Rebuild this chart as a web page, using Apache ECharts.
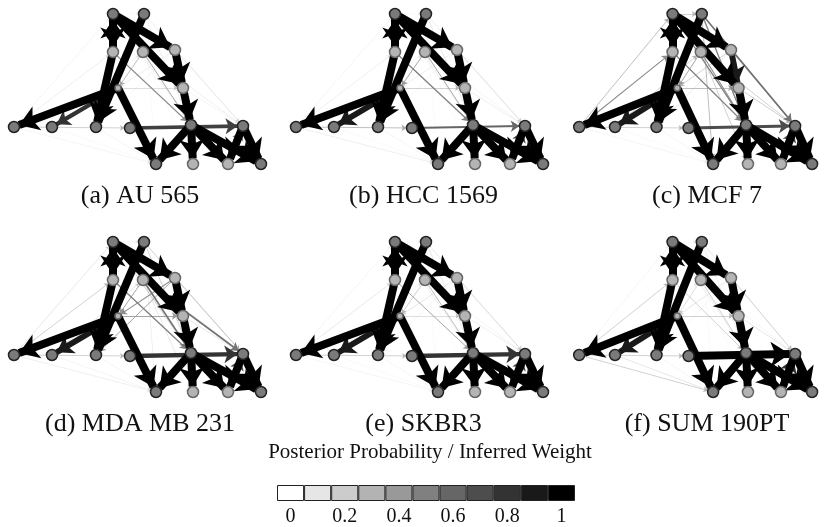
<!DOCTYPE html>
<html>
<head>
<meta charset="utf-8">
<script src="https://cdn.jsdelivr.net/npm/echarts@6/dist/echarts.min.js"></script>
<style>
  html, body { margin: 0; padding: 0; background: #fff; }
  #main { width: 830px; height: 527px; }
</style>
</head>
<body>
<div id="main"></div>
<script>
// network nodes (layout coordinates inside one panel)
const nodeNames = ['A', 'B', 'C', 'D', 'E', 'F', 'G', 'H', 'I', 'J', 'K', 'L', 'M', 'N', 'O', 'P', 'Q'];
const nodeX = [113, 144, 113, 143, 175, 183, 118, 191, 14, 52, 96, 130, 243, 156, 193, 228, 261];
const nodeY = [14, 14, 52, 52, 50, 88, 88, 125, 127, 127, 127, 128, 126, 164, 164, 164, 164];

// directed edges
const edgeFrom = ['A', 'C', 'A', 'A', 'E', 'F', 'B', 'C', 'G', 'G', 'G', 'H', 'H', 'H', 'H', 'M', 'M', 'L', 'I',
  'C', 'D', 'D', 'G', 'A', 'B', 'I', 'I', 'J', 'I', 'K', 'E', 'F', 'B', 'D', 'E', 'A', 'B', 'D', 'E', 'J', 'P'];
const edgeTo = ['C', 'A', 'E', 'F', 'F', 'H', 'K', 'K', 'I', 'J', 'N', 'N', 'O', 'P', 'Q', 'P', 'Q', 'M', 'L',
  'H', 'H', 'G', 'F', 'H', 'M', 'C', 'A', 'D', 'N', 'N', 'M', 'M', 'H', 'M', 'G', 'B', 'N', 'O', 'K', 'N', 'M'];

// posterior probability / inferred weight of each edge, one list per cell line
const wAU565 = [1, 1, 1, 1, 1, 1, 1, 1, 1, 0.8, 1, 1, 1, 1, 1, 1, 1, 0.75, 0.3,
  0.45, 0.4, 0.35, 0.25, 0.15, 0.15, 0.15, 0.1, 0.1, 0.1, 0.1, 0.15, 0.1, 0.15, 0.15, 0.15, 0.05, 0.05, 0.05, 0.1, 0.05, 0.6];
const wHCC1569 = [1, 1, 1, 1, 1, 1, 1, 1, 1, 0.9, 1, 1, 1, 1, 1, 1, 1, 0.6, 0.35,
  0.5, 0.4, 0.4, 0.3, 0.15, 0.15, 0.15, 0.1, 0.1, 0.15, 0.1, 0.2, 0.15, 0.2, 0.1, 0.15, 0.05, 0.05, 0.05, 0.1, 0.05, 0.7];
const wMCF7 = [1, 1, 1, 1, 0.9, 1, 1, 1, 1, 0.9, 1, 1, 1, 1, 1, 1, 1, 0.7, 0.3,
  0.5, 0.45, 0.4, 0.35, 0.5, 0.55, 0.45, 0.35, 0.3, 0.1, 0.1, 0.45, 0.3, 0.5, 0.3, 0.3, 0.3, 0.35, 0.3, 0.2, 0.05, 0.7];
const wMDAMB231 = [1, 1, 1, 1, 1, 1, 1, 1, 1, 0.9, 1, 1, 1, 1, 1, 1, 1, 0.8, 0.3,
  0.5, 0.55, 0.4, 0.4, 0.3, 0.3, 0.3, 0.2, 0.2, 0.15, 0.1, 0.25, 0.2, 0.3, 0.55, 0.45, 0.1, 0.15, 0.2, 0.4, 0.1, 0.7];
const wSKBR3 = [1, 1, 1, 1, 1, 1, 1, 1, 1, 0.9, 1, 1, 1, 1, 1, 1, 1, 0.8, 0.3,
  0.4, 0.35, 0.3, 0.25, 0.15, 0.2, 0.2, 0.1, 0.1, 0.1, 0.1, 0.2, 0.15, 0.2, 0.1, 0.2, 0.05, 0.05, 0.05, 0.1, 0.05, 0.7];
const wSUM190PT = [1, 1, 1, 1, 1, 1, 1, 1, 1, 0.9, 1, 1, 1, 1, 1, 1, 1, 1, 0.3,
  0.3, 0.3, 0.25, 0.3, 0.15, 0.2, 0.3, 0.1, 0.1, 0.3, 0.1, 0.25, 0.2, 0.15, 0.1, 0.2, 0.1, 0.05, 0.05, 0.1, 0.2, 0.8];

const panelLabels = ['(a) AU 565', '(b) HCC 1569', '(c) MCF 7', '(d) MDA MB 231', '(e) SKBR3', '(f) SUM 190PT'];
const panelWeights = [wAU565, wHCC1569, wMCF7, wMDAMB231, wSKBR3, wSUM190PT];

// colour bar
const scaleValues = [0, 0.1, 0.2, 0.3, 0.4, 0.5, 0.6, 0.7, 0.8, 0.9, 1];
const scaleLabels = ['0', '0.1', '0.2', '0.3', '0.4', '0.5', '0.6', '0.7', '0.8', '0.9', '1'];

const paleNodes = ['C', 'D', 'E', 'F', 'G', 'O', 'P'];
const serif = 'Liberation Serif';

function grey(w) {
  const g = Math.round(255 * (1 - w));
  return 'rgb(' + g + ',' + g + ',' + g + ')';
}

const chart = echarts.init(document.getElementById('main'), null, { renderer: 'canvas' });

const colLeft = [0, 282, 566];
const rowTop = [0, 228];
const grids = [], xAxes = [], yAxes = [], series = [], titles = [];

panelWeights.forEach((weights, p) => {
  const left = colLeft[p % 3];
  const top = rowTop[Math.floor(p / 3)];
  grids.push({ left: left, top: top, width: 280, height: 180 });
  xAxes.push({ type: 'value', gridIndex: p, min: 0, max: 280, show: false });
  yAxes.push({ type: 'value', gridIndex: p, min: 0, max: 180, inverse: true, show: false });

  const nodes = nodeNames.map((n, i) => {
    const pale = paleNodes.indexOf(n) >= 0;
    return {
      name: n,
      value: [nodeX[i], nodeY[i]],
      symbolSize: n === 'G' ? 6 : 11,
      itemStyle: {
        color: pale ? '#b4b4b4' : '#7a7a7a',
        borderColor: pale ? '#666' : '#222',
        borderWidth: 1.5
      }
    };
  });

  const links = edgeFrom.map((s, i) => {
    const w = weights[i];
    return {
      source: nodeNames.indexOf(s),
      target: nodeNames.indexOf(edgeTo[i]),
      w: w,
      symbolSize: [0, 3 + 16 * w * w],
      lineStyle: { color: grey(w), width: 0.4 + 7.6 * Math.pow(w, 3), opacity: 1 }
    };
  }).sort((a, b) => a.w - b.w);

  series.push({
    type: 'graph',
    coordinateSystem: 'cartesian2d',
    xAxisIndex: p,
    yAxisIndex: p,
    data: nodes,
    links: links,
    edgeSymbol: ['none', 'arrow'],
    label: { show: false },
    silent: true,
    z: 2
  });

  titles.push({
    text: panelLabels[p],
    left: 135 + (p % 3) * 283.5,
    top: top + 178,
    textAlign: 'center',
    textStyle: { fontFamily: serif, fontWeight: 'normal', fontSize: 26, color: '#111' }
  });
});

titles.push({
  text: 'Posterior Probability / Inferred Weight',
  left: 425,
  top: 437,
  textAlign: 'center',
  textStyle: { fontFamily: serif, fontWeight: 'normal', fontSize: 21, color: '#111' }
});

// colour bar drawn as a bar series
grids.push({ left: 277, top: 485, width: 298, height: 18 });
xAxes.push({
  type: 'category', gridIndex: 6, data: scaleLabels,
  axisLine: { show: false }, axisTick: { show: false },
  axisLabel: {
    interval: (i) => i % 2 === 0,
    margin: 6,
    fontFamily: serif, fontSize: 20, color: '#111'
  }
});
yAxes.push({ type: 'value', gridIndex: 6, min: 0, max: 1, show: false });
series.push({
  type: 'bar',
  xAxisIndex: 6,
  yAxisIndex: 6,
  barWidth: '100%',
  barCategoryGap: 0,
  silent: true,
  data: scaleValues.map(v => ({
    value: 1,
    itemStyle: { color: grey(v), borderColor: '#222', borderWidth: 1 }
  }))
});

chart.setOption({
  animation: false,
  title: titles,
  grid: grids,
  xAxis: xAxes,
  yAxis: yAxes,
  series: series
});
</script>
</body>
</html>
